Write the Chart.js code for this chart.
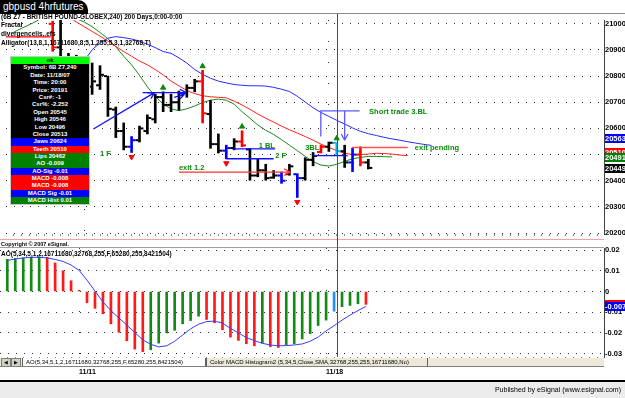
<!DOCTYPE html>
<html>
<head>
<meta charset="utf-8">
<title>gbpusd 4hrfutures</title>
<script src="https://cdn.jsdelivr.net/npm/chart.js@4.4.1/dist/chart.umd.min.js"></script>
<style>
body { margin: 0; width: 625px; height: 398px; overflow: hidden; background: #fff; position: relative; font-family: 'Liberation Sans', Arial, sans-serif; }
.abs { position: absolute; }
canvas { display: block; position: absolute; left: 0; }
#tab { left: 0; top: 0; width: 88px; height: 14px; background: #000; color: #fff; font-size: 10px; line-height: 14px; padding-left: 3px; box-sizing: border-box; border-top-right-radius: 10px; white-space: nowrap; }
.hdr { position: absolute; left: 1px; font-size: 6.5px; font-weight: bold; color: #000; white-space: nowrap; line-height: 8px; }
#dw { left: 10px; top: 56px; width: 78px; background: #000; border: 1px solid #c8c8c8; color: #fff; font-size: 6px; font-weight: bold; text-align: center; white-space: nowrap; }
#dw .k { height: 7.4px; line-height: 7.4px; }
#dw .r { height: 7.33px; line-height: 7.33px; }
#cursor { top: 14px; width: 1px; height: 343px; background: #ff0000; }
#tabs { left: 0; top: 358px; width: 604px; height: 8px; background: #ece9d8; border-bottom: 1px solid #808080; font-size: 6px; white-space: nowrap; }
#tabs .btn { position: absolute; top: 0; width: 8px; height: 7px; background: #d4d0c8; border: 1px solid #808080; font-size: 5px; line-height: 7px; text-align: center; }
#tabs .tb { position: absolute; top: 0; height: 8px; line-height: 8px; border-left: 1px solid #606060; border-right: 1px solid #606060; padding-left: 3px; box-sizing: border-box; }
#foot { left: 0; top: 382px; width: 625px; height: 16px; background: #ececec; text-align: right; font-size: 7px; line-height: 16px; padding-right: 4px; box-sizing: border-box; }
</style>
</head>
<body>
<canvas id="priceChart" width="625" height="226" style="top:14px"></canvas>
<canvas id="aoChart" width="625" height="140" style="top:240px"></canvas>

<div id="tab" class="abs">gbpusd 4hrfutures</div>
<div class="abs" style="left:88px;top:13px;width:537px;height:1px;background:#8a8a8a"></div>
<div class="hdr" style="top:13px">(6B Z7 - BRITISH POUND-GLOBEX,240) 200 Days,0:00-0:00</div>
<div class="hdr" style="top:21px">Fractal</div>
<div class="hdr" style="top:30px">divergencelis..efs</div>
<div class="hdr" style="top:39px">Alligator(13,8,1,16711680,8,5,1,255,5,3,1,32768,T)</div>

<div id="dw" class="abs">
  <div class="k" style="background:#00ff00;color:#000">ok</div>
  <div class="k">Symbol: 6B Z7,240</div>
  <div class="k">Date: 11/18/07</div>
  <div class="k">Time: 20:00</div>
  <div class="k">Price: 20191</div>
  <div class="k">Csr#: -1</div>
  <div class="k">Csr%: -2.252</div>
  <div class="k">Open 20545</div>
  <div class="k">High 20546</div>
  <div class="k">Low 20496</div>
  <div class="k">Close 20513</div>
  <div class="r" style="background:#0000ff">Jaws 20624</div>
  <div class="r" style="background:#ff0000">Teeth 20510</div>
  <div class="r" style="background:#008000">Lips 20462</div>
  <div class="r" style="background:#008000">AO -0.009</div>
  <div class="r" style="background:#0000ff">AO-Sig -0.01</div>
  <div class="r" style="background:#ff0000">MACD -0.008</div>
  <div class="r" style="background:#ff0000">MACD -0.008</div>
  <div class="r" style="background:#0000ff">MACD Sig -0.01</div>
  <div class="r" style="background:#008000">MACD Hist 0.01</div>
</div>

<div class="abs" style="left:0;top:239px;width:604px;height:1px;background:#f3a0a0"></div>
<div class="hdr" style="top:240px;font-size:5.5px">Copyright &copy; 2007 eSignal.</div>
<div class="abs" style="left:0;top:247px;width:604px;height:1px;background:#a0a0a0"></div>
<div class="hdr" style="top:250px">AO(5,34,5,1,2,16711680,32768,255,F,65280,255,8421504)</div>
<div id="cursor" class="abs"></div>

<div id="tabs" class="abs">
  <div class="btn" style="left:1px">&#9664;</div>
  <div class="btn" style="left:11px">&#9654;</div>
  <div class="tb" style="left:22px;width:184px;background:#fff">AO(5,34,5,1,2,16711680,32768,255,F,65280,255,8421504)</div>
  <div class="tb" style="left:206px;width:222px">Color MACD Histogram2 (5,34,5,Close,SMA,32768,255,255,16711680,No)</div>
</div>

<div class="abs" style="left:0;top:380px;width:625px;height:2px;background:#000"></div>
<div id="foot" class="abs">Published by eSignal (www.esignal.com)</div>

<script>
// 4 hour bars, index 0 = first bar on screen
const open  = [21060, 21100, 21120, 21110, 21080, 21000, 20910, 20850, 20810, 20800,
               20760, 20765, 20800, 20672, 20590, 20530, 20555, 20590, 20635, 20720,
               20690, 20700, 20735, 20755, 20780, 20655, 20540, 20515, 20525, 20550,
               20520, 20420, 20440, 20412, 20420, 20425, 20425, 20410, 20480, 20510,
               20530, 20545, 20513, 20470, 20500, 20470];
const high  = [21120, 21150, 21160, 21140, 21110, 21010, 21030, 20887, 20880, 20860,
               20850, 20840, 20800, 20682, 20621, 20569, 20609, 20652, 20731, 20740,
               20731, 20743, 20767, 20788, 20822, 20707, 20579, 20536, 20561, 20591,
               20524, 20482, 20463, 20439, 20433, 20463, 20427, 20488, 20508, 20536,
               20548, 20546, 20536, 20524, 20530, 20482];
const low   = [21040, 21070, 21080, 21060, 21020, 20895, 20836, 20790, 20770, 20740,
               20730, 20749, 20646, 20565, 20518, 20508, 20548, 20579, 20621, 20664,
               20664, 20670, 20719, 20740, 20621, 20524, 20506, 20484, 20518, 20530,
               20402, 20415, 20402, 20409, 20390, 20421, 20336, 20402, 20457, 20506,
               20512, 20496, 20451, 20435, 20457, 20445];
const close = [21100, 21120, 21110, 21080, 21030, 20910, 20850, 20810, 20800, 20760,
               20780, 20805, 20675, 20590, 20530, 20555, 20600, 20640, 20720, 20690,
               20700, 20735, 20755, 20780, 20658, 20540, 20515, 20525, 20550, 20535,
               20420, 20440, 20410, 20420, 20400, 20455, 20410, 20480, 20495, 20530,
               20545, 20513, 20470, 20500, 20470, 20449];

// alligator lines (already shifted forward, so they run past the last bar)
const jaws = [null, null, null, null, null, null, 20780, 20800, 20825, 20858,
              20901, 20927, 20945, 20951, 20947, 20942, 20934, 20922, 20909, 20894,
              20887, 20870, 20850, 20825, 20807, 20792, 20781, 20774, 20768, 20765,
              20763, 20763, 20762, 20757, 20750, 20741, 20723, 20701, 20679, 20661,
              20646, 20631, 20617, 20602, 20589, 20580, 20573, 20566, 20560, 20555,
              20549, 20544, 20539, 20535];
const teeth = [null, null, null, null, 21090, 21070, 21050, 21028, 21007, 20989,
               20971, 20953, 20934, 20914, 20894, 20876, 20858, 20843, 20825, 20805,
               20781, 20763, 20745, 20733, 20725, 20721, 20719, 20717, 20704, 20690,
               20673, 20655, 20639, 20624, 20609, 20595, 20582, 20569, 20555, 20540,
               20527, 20515, 20505, 20500, 20500, 20502, 20505, 20504, 20502, 20498,
               20496];
const lips = [20967, 20982, 20996, 21011, 21030, 21040, 21040, 21032, 21020, 21007,
              20989, 20967, 20943, 20912, 20876, 20843, 20803, 20759, 20723, 20693,
              20675, 20668, 20675, 20686, 20699, 20708, 20712, 20708, 20693, 20664,
              20639, 20613, 20593, 20577, 20557, 20536, 20515, 20493, 20473, 20460,
              20456, 20463, 20474, 20484, 20489, 20493, 20493, 20492, 20491];

// AO histogram and its signal line
const ao = [0.0155, 0.0160, 0.0163, 0.0166, 0.0168, 0.0165, 0.0138, 0.0100, 0.0052, 0.0005,
            -0.0054, -0.0081, -0.0107, -0.0156, -0.0197, -0.0238, -0.0278, -0.0290, -0.0281, -0.0249,
            -0.0200, -0.0187, -0.0156, -0.0140, -0.0119, -0.0135, -0.0151, -0.0184, -0.0220, -0.0236,
            -0.0252, -0.0262, -0.0249, -0.0266, -0.0270, -0.0257, -0.0252, -0.0229, -0.0203, -0.0164,
            -0.0138, -0.0095, -0.0073, -0.0067, -0.0059, -0.0062];
const aoSig = [0.0150, 0.0157, 0.0162, 0.0165, 0.0165, 0.0162, 0.0155, 0.0145, 0.0128, 0.0102,
               0.0055, 0.0002, -0.0050, -0.0092, -0.0128, -0.0162, -0.0198, -0.0233, -0.0255, -0.0267,
               -0.0262, -0.0240, -0.0210, -0.0180, -0.0158, -0.0145, -0.0143, -0.0152, -0.0178, -0.0200,
               -0.0222, -0.0237, -0.0250, -0.0258, -0.0262, -0.0261, -0.0258, -0.0253, -0.0240, -0.0220,
               -0.0190, -0.0165, -0.0138, -0.0114, -0.0092, -0.0072];

const blueBars = [15, 27, 34, 36, 43];
const redBars = [5, 24, 29, 39, 44];
const cursorBar = 41;
const upFractals = [19, 24, 29, 41];
const downFractals = [15, 27, 36];

const priceTicks = [20200, 20300, 20400, 20500, 20600, 20700, 20800, 20900, 21000];
const aoTicks = [0.02, 0.01, 0, -0.01, -0.02, -0.03];
const dateTicks = [9, 40];
const dateLabels = ['11/11', '11/18'];
const priceTags = [20563, 20510, 20491, 20449];
const aoTags = [-0.006, -0.007];

// hand drawn trend lines and notes, in bar index / price units
const trendLines = [
    { pts: [[10.16, 20598], [17.9, 20737]], color: '#1010ff', arrow: true },
    { pts: [[16.4, 20737], [21.9, 20737]], color: '#1010ff', arrow: true },
    { pts: [[20.4, 20719], [21.7, 20731]], color: '#1010ff', arrow: true },
    { pts: [[27.8, 20522], [33.2, 20522]], color: '#1010ff' },
    { pts: [[27.0, 20484], [33.0, 20484]], color: '#1010ff' },
    { pts: [[21.0, 20433], [35.1, 20433]], color: '#ff3030', arrow: true },
    { pts: [[38.0, 20496], [42.4, 20496]], color: '#1010ff' },
    { pts: [[38.98, 20569], [38.98, 20667], [43.9, 20667]], color: '#5a5aff' },
    { pts: [[42.0, 20667], [42.0, 20555]], color: '#5a5aff', arrow: true },
    { pts: [[42.9, 20527], [50.0, 20527]], color: '#ff5050' },
    { pts: [[-0.92, 20950], [4.73, 20950]], color: '#ff0000' }
];
const notes = [
    { text: '1 F', x: 11.0, y: 20504 },
    { text: '1 BL', x: 31.1, y: 20533 },
    { text: '2 F', x: 33.2, y: 20496 },
    { text: 'exit 1.2', x: 21.0, y: 20449 },
    { text: '3BL', x: 37.0, y: 20525 },
    { text: 'Short trade 3.BL', x: 45.1, y: 20664 },
    { text: 'exit pending', x: 50.9, y: 20525 }
];

document.addEventListener('DOMContentLoaded', function () {
    const BAR_PX = 7.97;
    const X_MIN = -7.3 / BAR_PX;
    const X_MAX = X_MIN + 604 / BAR_PX;
    const PX_PER_PRICE = 0.27375;
    const P_MAX = 21000 + 4 / PX_PER_PRICE;
    const P_MIN = 21000 - 220 / PX_PER_PRICE;
    const slots = [];
    for (let i = 0; i <= 74; i++) slots.push(i);

    const font = { family: 'Liberation Sans', size: 7.5, weight: 'bold' };
    const noPad = s => { s.paddingTop = 0; s.paddingBottom = 0; s.paddingLeft = 0; s.paddingRight = 0; };

    function xAxis(withDates) {
        return {
            type: 'linear', min: X_MIN, max: X_MAX, offset: false,
            afterBuildTicks: s => { s.ticks = slots.map(v => ({ value: v })); },
            afterFit: s => { s.height = withDates ? 23 : 2; noPad(s); },
            grid: {
                offset: false, drawOnChartArea: true, drawTicks: true,
                tickLength: withDates ? 3 : 2, tickColor: '#8a8a8a',
                color: c => (c.tick && dateTicks.includes(c.tick.value)) ? '#303030' : 'rgba(0,0,0,0)'
            },
            border: { display: false, dash: [1, 20] },
            ticks: {
                display: withDates, autoSkip: false, maxRotation: 0, minRotation: 0,
                align: 'start', padding: 8, color: '#000',
                font: { family: 'Liberation Sans', size: 7, weight: 'bold' },
                callback: v => { let k = dateTicks.indexOf(v); return k >= 0 ? dateLabels[k] : ''; }
            }
        };
    }

    function yAxis(min, max, tickList, fmt) {
        return {
            position: 'right', min: min, max: max,
            afterBuildTicks: s => { s.ticks = tickList.map(v => ({ value: v })); },
            afterFit: s => { s.width = 21; noPad(s); },
            grid: { color: '#2a2a2a', drawTicks: false },
            border: { display: true, color: '#404040', dash: [1, 7] },
            ticks: { padding: 1, color: '#000', font: font, callback: fmt }
        };
    }

    // coloured value boxes on the right axis
    const axisTags = {
        id: 'axisTags',
        afterDraw(chart, args, opts) {
            let ctx = chart.ctx, y = chart.scales.y, left = chart.chartArea.right;
            ctx.save();
            ctx.font = 'bold 7.5px "Liberation Sans"';
            ctx.textBaseline = 'middle';
            opts.tags.forEach((v, i) => {
                let py = Math.round(y.getPixelForValue(v));
                ctx.fillStyle = opts.colors[i];
                ctx.fillRect(left + 1, py - 4, 21, 9);
                ctx.fillStyle = '#fff';
                ctx.fillText(opts.fmt(v), left + 1, py + 0.5);
            });
            ctx.restore();
        }
    };

    const drawings = {
        id: 'drawings',
        afterDatasetsDraw(chart) {
            let ctx = chart.ctx, x = chart.scales.x, y = chart.scales.y, a = chart.chartArea;
            ctx.save();
            ctx.beginPath();
            ctx.rect(a.left, a.top, a.right - a.left, a.bottom - a.top);
            ctx.clip();
            trendLines.forEach(l => {
                let pts = l.pts.map(p => [x.getPixelForValue(p[0]), y.getPixelForValue(p[1])]);
                ctx.strokeStyle = l.color;
                ctx.lineWidth = 1.3;
                ctx.beginPath();
                pts.forEach((p, i) => i ? ctx.lineTo(p[0], p[1]) : ctx.moveTo(p[0], p[1]));
                if (l.arrow) {
                    let p0 = pts[pts.length - 2], p1 = pts[pts.length - 1];
                    let ang = Math.atan2(p1[1] - p0[1], p1[0] - p0[0]);
                    [0.5, -0.5].forEach(d => {
                        ctx.moveTo(p1[0], p1[1]);
                        ctx.lineTo(p1[0] - 7 * Math.cos(ang + d), p1[1] - 7 * Math.sin(ang + d));
                    });
                }
                ctx.stroke();
            });
            ctx.font = 'bold 7.5px "Liberation Sans"';
            ctx.fillStyle = '#0a8a0a';
            ctx.textBaseline = 'middle';
            notes.forEach(n => ctx.fillText(n.text, x.getPixelForValue(n.x), y.getPixelForValue(n.y)));
            ctx.restore();
        }
    };

    let barColors = high.map((h, i) => i === cursorBar ? '#00b4f0'
        : blueBars.includes(i) ? '#0000ff' : redBars.includes(i) ? '#ff0000' : '#000000');
    let lineOf = arr => arr.map((v, i) => ({ x: i, y: v })).filter(p => p.y !== null);

    let canvas1 = document.getElementById('priceChart');
    let chart1 = new Chart(canvas1, {
        type: 'bar',
        data: {
            datasets: [{
                type: 'line', data: lineOf(jaws), borderColor: '#2a2aff', borderWidth: 1,
                pointRadius: 0, order: 5
            }, {
                type: 'line', data: lineOf(teeth), borderColor: '#ff2020', borderWidth: 1,
                pointRadius: 0, order: 5
            }, {
                type: 'line', data: lineOf(lips), borderColor: '#1a8a1a', borderWidth: 1,
                pointRadius: 0, order: 5
            }, {
                type: 'bar', data: high.map((h, i) => ({ x: i, y: [low[i], h] })),
                backgroundColor: barColors, barThickness: 2, order: 3
            }, {
                type: 'line', showLine: false, data: open.map((v, i) => ({ x: i - 0.31, y: v })),
                pointStyle: 'line', pointRadius: 1.5, pointBorderWidth: 2,
                pointBorderColor: barColors, order: 2
            }, {
                type: 'line', showLine: false, data: close.map((v, i) => ({ x: i + 0.31, y: v })),
                pointStyle: 'line', pointRadius: 1.5, pointBorderWidth: 2,
                pointBorderColor: barColors, order: 2
            }, {
                type: 'line', showLine: false, data: upFractals.map(i => ({ x: i, y: high[i] + 16 })),
                pointStyle: 'triangle', pointRadius: 3, pointBorderWidth: 1,
                pointBackgroundColor: '#0a8a0a', pointBorderColor: '#0a8a0a', order: 1
            }, {
                type: 'line', showLine: false, data: downFractals.map(i => ({ x: i, y: low[i] - 17 })),
                pointStyle: 'triangle', pointRotation: 180, pointRadius: 3, pointBorderWidth: 1,
                pointBackgroundColor: '#ff0000', pointBorderColor: '#ff0000', order: 1
            }]
        },
        options: {
            responsive: false, animation: false, events: [],
            layout: { padding: 0 },
            plugins: {
                legend: { display: false }, tooltip: { enabled: false },
                axisTags: { tags: priceTags, colors: ['#0000ff', '#ff0000', '#008000', '#000000'], fmt: v => String(v) }
            },
            scales: {
                x: xAxis(false),
                y: yAxis(P_MIN, P_MAX, priceTicks, v => String(v))
            }
        },
        plugins: [drawings, axisTags]
    });

    let aoColors = ao.map((v, i) => i === cursorBar ? '#1e90ff'
        : (i === 0 || v > ao[i - 1]) ? '#138a13' : '#ff1a1a');
    let aoFmt = v => v === 0 ? '0' : v.toFixed(2);

    let canvas2 = document.getElementById('aoChart');
    let chart2 = new Chart(canvas2, {
        type: 'bar',
        data: {
            datasets: [{
                type: 'line', data: lineOf(aoSig), borderColor: '#3a3aff', borderWidth: 1,
                pointRadius: 0, order: 1
            }, {
                type: 'bar', data: ao.map((v, i) => ({ x: i, y: v })),
                backgroundColor: aoColors, barThickness: 2, order: 2
            }]
        },
        options: {
            responsive: false, animation: false, events: [],
            layout: { padding: { top: 8 } },
            plugins: {
                legend: { display: false }, tooltip: { enabled: false },
                axisTags: { tags: aoTags, colors: ['#ff0000', '#0000ff'], fmt: v => v.toFixed(3) }
            },
            scales: {
                x: xAxis(true),
                y: yAxis(-0.0316, 0.0210, aoTicks, aoFmt)
            }
        },
        plugins: [axisTags]
    });

    // red cursor line through both panes, placed from the price chart's x scale
    let cur = document.getElementById('cursor');
    cur.style.left = Math.round(chart1.scales.x.getPixelForValue(cursorBar)) + 'px';
});
</script>
</body>
</html>
